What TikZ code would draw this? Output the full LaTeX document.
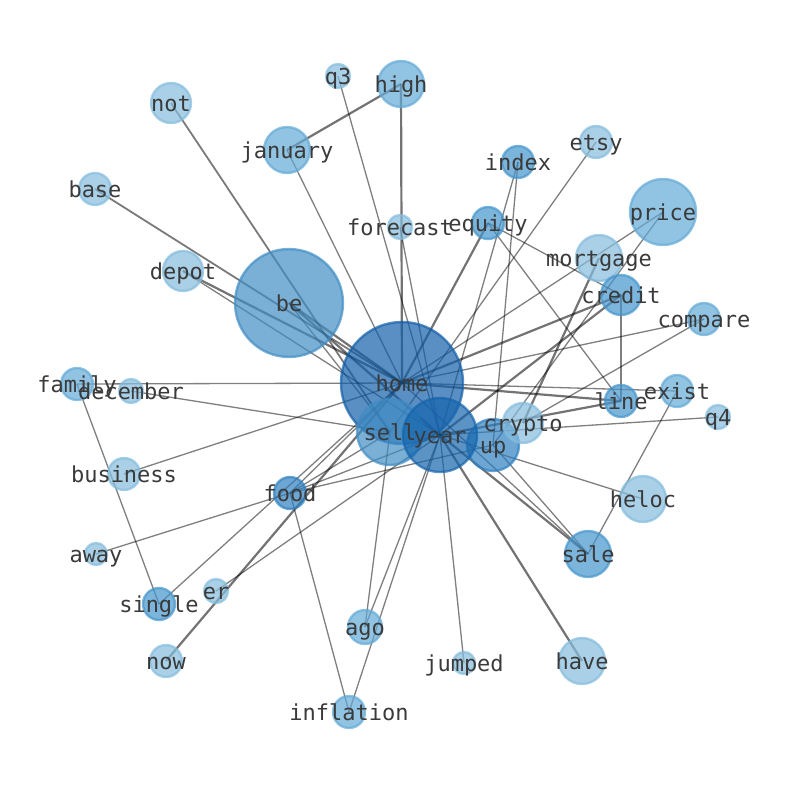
\documentclass[tikz,border=0pt]{standalone}
\usepackage{fontspec}
\newfontfamily\labfont{DejaVu Sans Mono}
\definecolor{cA}{HTML}{135FA9}
\definecolor{cY}{HTML}{1565AD}
\definecolor{cB}{HTML}{418DC4}
\definecolor{cS}{HTML}{2F80C0}
\definecolor{cM}{HTML}{4595CC}
\definecolor{cL}{HTML}{63A9D6}
\definecolor{cP}{HTML}{84BCDD}
\definecolor{labcol}{HTML}{3A3A3A}
\begin{document}
\begin{tikzpicture}[x=1pt,y=-1pt,
  edgethin/.style={draw=black,draw opacity=0.5,line width=1.3pt},
  edgemid/.style={draw=black,draw opacity=0.52,line width=1.8pt},
  edgethick/.style={draw=black,draw opacity=0.55,line width=2.2pt},
  gnode/.style={fill opacity=0.7,draw opacity=0.7,line width=2.4pt},
  glabel/.style={font=\labfont\fontsize{22}{26}\selectfont,text=labcol,inner sep=0pt,
    text height=16.7pt,text depth=5.3pt,yshift=-3pt}]
\useasboundingbox (0,0) rectangle (794,790);
% positions
\foreach \n/\x/\y in {home/402/383, be/289/303, year/440/435, sell/390/432, up/493/445,
  crypto/523/423, price/663/212, mortgage/599/258, credit/621/295, compare/704/319,
  exist/677/391, line/621/401, q4/718/417, heloc/643/499, sale/588/554, have/582/661,
  jumped/464/663, inflation/349/712, ago/365/627, food/290/493, er/216/591,
  single/159/604, now/166/661, away/96/554, business/124/474, family/77/384,
  december/131/391, depot/183/271, base/95/189, not/171/103, january/287/150,
  q3/338/76, high/401/84, forecast/400/227, equity/488/223, index/518/162, etsy/596/142}
  \coordinate (\n) at (\x,\y);
% thick edges
\foreach \a/\b in {be/home, be/year, depot/home, credit/home, credit/year, line/home,
  line/year, sale/year, now/home, equity/home, high/home, high/january, have/year,
  mortgage/crypto}
  \draw[edgethick] (\a) -- (\b);
% medium edges
\foreach \a/\b in {base/home, not/sell}
  \draw[edgemid] (\a) -- (\b);
% thin edges
\foreach \a/\b in {january/home, q3/year, forecast/year, etsy/sell,
  price/home, price/up, compare/home, compare/crypto, exist/home, exist/sale, line/credit,
  equity/line, equity/credit, q4/year, heloc/year, jumped/year, inflation/food,
  inflation/year, ago/sell, ago/year, food/home, food/year, food/sell, food/up,
  away/food, single/home, single/family, er/year, business/home, family/home,
  december/sell, index/year, index/up, sale/home, sale/up, depot/year, be/sell}
  \draw[edgethin] (\a) -- (\b);
% nodes
\foreach \n/\r/\c in {be/54/cB, home/61/cA, sell/33/cB, up/26/cS, crypto/20/cP, year/37/cY,
  price/33/cL, mortgage/23/cP, credit/20/cM, compare/16/cL, exist/16/cL, line/16/cM,
  q4/12/cP, heloc/23/cP, sale/23/cM, have/23/cP, jumped/11/cP, inflation/16/cL,
  ago/17/cL, food/16/cS, er/12/cP, single/16/cM, now/16/cP, away/11/cP,
  business/16/cP, family/16/cL, december/12/cP, depot/20/cP, base/16/cP, not/20/cP,
  january/23/cL, q3/12/cP, high/23/cL, forecast/12/cP, equity/16/cM, index/16/cM,
  etsy/16/cP}
  \draw[gnode,fill=\c,draw=\c] (\n) circle (\r);
% labels
\foreach \n in {be, home, sell, up, crypto, year, price, mortgage, credit, compare, exist,
  line, q4, heloc, sale, have, jumped, inflation, ago, food, er, single, now, away,
  business, family, december, depot, base, not, january, q3, high, forecast, equity,
  index, etsy}
  \node[glabel] (lab-\n) at (\n) {\n};
\end{tikzpicture}
\end{document}
